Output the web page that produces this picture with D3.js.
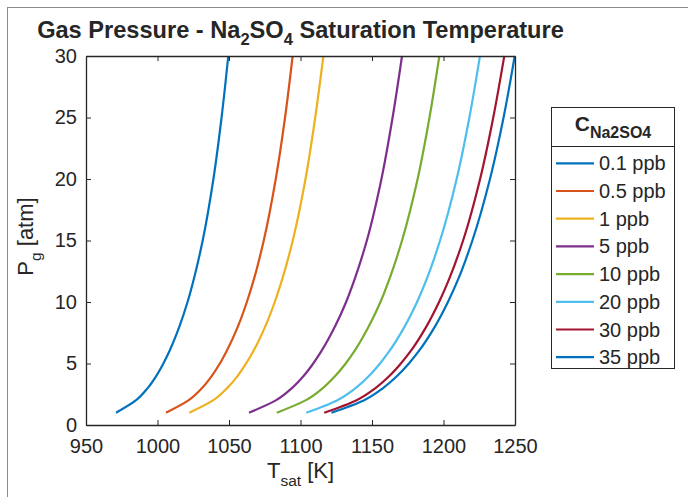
<!DOCTYPE html>
<html>
<head>
<meta charset="utf-8">
<script src="https://cdn.jsdelivr.net/npm/d3@7"></script>
<style>
  body { margin: 0; background: #fff; }
  text { font-family: "Liberation Sans", Arial, Helvetica, sans-serif; fill: #262626; }
  .axis path, .axis line { stroke: #262626; }
</style>
</head>
<body>
<svg width="688" height="497"></svg>
<script>
// pressure levels (atm) where each curve was read
const pressures = [1, 2, 3, 4, 5, 6, 8, 10, 12, 15, 20, 25, 30];

// saturation temperature (K) per concentration
const t01ppb = [971.0, 984.8, 993.1, 999.2, 1004.1, 1008.3, 1015.3, 1021.0, 1025.7, 1031.6, 1039.1, 1044.8, 1049.5];
const t05ppb = [1005.9, 1021.6, 1031.1, 1038.0, 1043.6, 1048.3, 1056.2, 1062.5, 1067.8, 1074.3, 1082.7, 1089.2, 1094.5];
const t1ppb = [1022.2, 1038.8, 1048.7, 1056.1, 1061.9, 1067.0, 1075.3, 1082.0, 1087.6, 1094.6, 1103.5, 1110.3, 1116.0];
const t5ppb = [1064.0, 1082.7, 1094.0, 1102.3, 1108.9, 1114.6, 1124.1, 1131.9, 1138.3, 1146.4, 1156.6, 1164.4, 1171.0];
const t10ppb = [1083.4, 1103.5, 1115.6, 1124.4, 1131.6, 1137.7, 1147.7, 1155.9, 1162.6, 1171.0, 1181.9, 1190.2, 1197.1];
const t20ppb = [1104.0, 1125.5, 1138.5, 1148.0, 1155.6, 1162.1, 1172.8, 1181.5, 1188.7, 1197.6, 1209.2, 1218.1, 1225.5];
const t30ppb = [1116.6, 1138.9, 1152.4, 1162.3, 1170.2, 1177.0, 1188.0, 1196.9, 1204.4, 1213.7, 1225.6, 1234.8, 1242.5];
const t35ppb = [1121.6, 1144.2, 1157.7, 1167.7, 1175.8, 1182.7, 1194.0, 1203.1, 1210.8, 1220.2, 1232.5, 1242.0, 1249.8];

const seriesLabels = ['0.1 ppb', '0.5 ppb', '1 ppb', '5 ppb', '10 ppb', '20 ppb', '30 ppb', '35 ppb'];
const seriesColors = ['#0072BD', '#D95319', '#EDB120', '#7E2F8E', '#77AC30', '#4DBEEE', '#A2142F', '#0072BD'];
const xTicks = [950, 1000, 1050, 1100, 1150, 1200, 1250];
const yTicks = [0, 5, 10, 15, 20, 25, 30];

const series = [t01ppb, t05ppb, t1ppb, t5ppb, t10ppb, t20ppb, t30ppb, t35ppb].map((temps, i) => ({
    name: seriesLabels[i],
    color: seriesColors[i],
    values: temps.map((t, j) => ({ t: t, p: pressures[j] }))
}));

const svg = d3.select('svg');

const plotLeft = 86, plotRight = 515, plotTop = 56, plotBottom = 425;

const x = d3.scaleLinear().domain([950, 1250]).range([plotLeft, plotRight]);
const y = d3.scaleLinear().domain([0, 30]).range([plotBottom, plotTop]);

// figure frame (only top and left edges show in the crop)
svg.append('rect')
    .attr('x', 7.5).attr('y', 7.5)
    .attr('width', 720).attr('height', 520)
    .attr('fill', 'none')
    .attr('stroke', '#8a8a8a');

// curves
const line = d3.line()
    .curve(d3.curveMonotoneY)
    .x(d => x(d.t))
    .y(d => y(d.p));

svg.append('g')
    .selectAll('path')
    .data(series)
    .enter().append('path')
    .attr('d', d => line(d.values))
    .attr('fill', 'none')
    .attr('stroke', d => d.color)
    .attr('stroke-width', 2.2)
    .attr('stroke-linejoin', 'round');

// axes (box on, ticks pointing in)
svg.append('g')
    .attr('class', 'axis')
    .attr('transform', `translate(0,${plotBottom})`)
    .call(d3.axisBottom(x).tickValues(xTicks).tickFormat(d3.format('d'))
        .tickSizeInner(-5).tickSizeOuter(0).tickPadding(14));

svg.append('g')
    .attr('class', 'axis')
    .attr('transform', `translate(0,${plotTop})`)
    .call(d3.axisTop(x).tickValues(xTicks).tickSizeInner(-5).tickSizeOuter(0).tickFormat(''));

svg.append('g')
    .attr('class', 'axis')
    .attr('transform', `translate(${plotLeft},0)`)
    .call(d3.axisLeft(y).tickValues(yTicks).tickSizeInner(-5).tickSizeOuter(0).tickPadding(9));

svg.append('g')
    .attr('class', 'axis')
    .attr('transform', `translate(${plotRight},0)`)
    .call(d3.axisRight(y).tickValues(yTicks).tickSizeInner(-5).tickSizeOuter(0).tickFormat(''));

svg.selectAll('.axis path').attr('stroke-width', 1.3);
svg.selectAll('.axis text')
    .attr('font-size', 20)
    .attr('font-family', '"Liberation Sans", Arial, sans-serif')
    .attr('fill', '#262626');

// title
const title = svg.append('text')
    .attr('x', (plotLeft + plotRight) / 2)
    .attr('y', 38)
    .attr('text-anchor', 'middle')
    .attr('font-size', 23.6)
    .attr('font-weight', 'bold')
    .attr('fill', '#000');
title.append('tspan').text('Gas Pressure - Na');
title.append('tspan').text('2').attr('font-size', 16.5).attr('dy', 7);
title.append('tspan').text('SO').attr('dy', -7);
title.append('tspan').text('4').attr('font-size', 16.5).attr('dy', 7);
title.append('tspan').text(' Saturation Temperature').attr('dy', -7);

// axis labels
const xLabel = svg.append('text')
    .attr('x', (plotLeft + plotRight) / 2)
    .attr('y', 478)
    .attr('text-anchor', 'middle')
    .attr('font-size', 22);
xLabel.append('tspan').text('T');
xLabel.append('tspan').text('sat').attr('font-size', 15.5).attr('dy', 8);
xLabel.append('tspan').text(' [K]').attr('dy', -8);

const yLabel = svg.append('text')
    .attr('transform', `translate(33,${(plotTop + plotBottom) / 2 - 4}) rotate(-90)`)
    .attr('text-anchor', 'middle')
    .attr('font-size', 22);
yLabel.append('tspan').text('P');
yLabel.append('tspan').text('g').attr('font-size', 15.5).attr('dy', 8);
yLabel.append('tspan').text(' [atm]').attr('dy', -8);

// legend
const legend = svg.append('g');
legend.append('rect')
    .attr('x', 551.5).attr('y', 107.5)
    .attr('width', 123).attr('height', 261)
    .attr('fill', '#fff')
    .attr('stroke', '#262626')
    .attr('stroke-width', 1);
legend.append('line')
    .attr('x1', 551.5).attr('x2', 674.5)
    .attr('y1', 146.5).attr('y2', 146.5)
    .attr('stroke', '#262626');

const legendTitle = legend.append('text')
    .attr('x', 613)
    .attr('y', 131)
    .attr('text-anchor', 'middle')
    .attr('font-size', 21)
    .attr('font-weight', 'bold')
    .attr('fill', '#000');
legendTitle.append('tspan').text('C');
legendTitle.append('tspan').text('Na2SO4').attr('font-size', 16).attr('dy', 7);

const rows = legend.selectAll('.row')
    .data(series)
    .enter().append('g')
    .attr('class', 'row')
    .attr('transform', (d, i) => `translate(0,${163.3 + i * 27.7})`);

rows.append('line')
    .attr('x1', 556).attr('x2', 594)
    .attr('stroke', d => d.color)
    .attr('stroke-width', 2.2);

rows.append('text')
    .attr('x', 599)
    .attr('dy', '0.35em')
    .attr('font-size', 20)
    .text(d => d.name);
</script>
</body>
</html>
